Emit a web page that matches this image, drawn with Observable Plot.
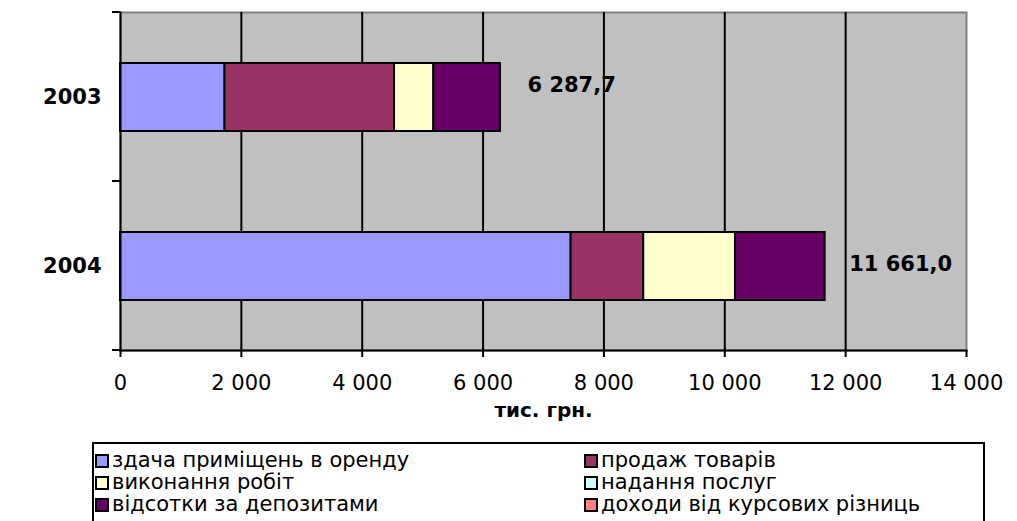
<!DOCTYPE html>
<html>
<head>
<meta charset="utf-8">
<script src="https://cdn.jsdelivr.net/npm/d3@7"></script>
<script src="https://cdn.jsdelivr.net/npm/@observablehq/plot@0.6"></script>
<style>
  html, body { margin: 0; padding: 0; background: #fff; }
  body { width: 1017px; height: 521px; overflow: hidden; font-family: "DejaVu Sans", Verdana, sans-serif; }
  #legend {
    position: absolute; left: 92px; top: 442px; width: 889px; height: 90px;
    border: 2px solid #000; box-sizing: content-box; font-size: 21px; color: #000;
  }
  .item { position: absolute; display: flex; align-items: center; white-space: nowrap; line-height: 21px; }
  .sw { width: 10px; height: 10px; border: 2px solid #000; margin-right: 3px; box-sizing: content-box; }
</style>
</head>
<body>
<div id="chart"></div>
<div id="legend"></div>
<script>
const years = ["2003", "2004"];
const series = [
  "здача приміщень в оренду",
  "продаж товарів",
  "виконання робіт",
  "надання послуг",
  "відсотки за депозитами",
  "доходи від курсових різниць"
];
const colors = ["#9999FF", "#993366", "#FFFFCC", "#CCFFFF", "#660066", "#FF8080"];
const values2003 = [1730, 2805, 650, 0, 1102.7, 0];
const values2004 = [7457, 1202, 1518, 0, 1484, 0];
const totals = [6287.7, 11661.0];
const totalLabels = ["6 287,7", "11 661,0"];
const xTicks = [0, 2000, 4000, 6000, 8000, 10000, 12000, 14000];
const gridTicks = [2000, 4000, 6000, 8000, 10000, 12000];
const axisTitle = "тис. грн.";

const valuesByYear = {"2003": values2003, "2004": values2004};
const table = [];
for (const y of years) {
  series.forEach((s, i) => {
    const v = valuesByYear[y][i];
    if (v > 0) table.push({year: y, series: s, value: v});
  });
}
const totalRows = years.map((y, i) => ({year: y, total: totals[i], label: totalLabels[i]}));
const labelDy = {"2003": -12, "2004": -2};

const fmt = d => d3.format(",")(d).replace(/,/g, " ");

function yBoundaryTicks(index, scales, values, dims) {
  const {marginTop, marginBottom, marginLeft, height} = dims;
  const n = years.length;
  const step = (height - marginTop - marginBottom) / n;
  const g = d3.create("svg:g");
  for (let i = 0; i <= n; i++) {
    const y = marginTop + i * step;
    g.append("line")
      .attr("x1", marginLeft - 8).attr("x2", marginLeft)
      .attr("y1", y).attr("y2", y)
      .attr("stroke", "#000").attr("stroke-width", 2);
  }
  return g.node();
}

const chart = Plot.plot({
  width: 1017,
  height: 438,
  marginLeft: 120,
  marginRight: 51,
  marginTop: 12,
  marginBottom: 88,
  style: {fontFamily: "DejaVu Sans, Verdana, sans-serif", fontSize: "21px", color: "#000", background: "#fff", overflow: "visible"},
  x: {domain: [0, 14000]},
  y: {domain: years, paddingInner: 0.6, paddingOuter: 0.3},
  color: {domain: series, range: colors},
  marks: [
    Plot.frame({fill: "#C0C0C0", stroke: "#808080", strokeWidth: 2}),
    Plot.gridX(gridTicks, {stroke: "#000", strokeOpacity: 1, strokeWidth: 2}),
    Plot.barX(table, Plot.stackX({x: "value", y: "year", fill: "series", stroke: "#000", strokeWidth: 2})),
    Plot.frame({anchor: "left", stroke: "#000", strokeWidth: 2}),
    Plot.frame({anchor: "bottom", stroke: "#000", strokeWidth: 2}),
    yBoundaryTicks,
    Plot.axisX({ticks: xTicks, tickSize: 7, tickPadding: 18, tickFormat: fmt, strokeWidth: 2, label: null, fontSize: 21}),
    Plot.axisY({tickSize: 0, tickPadding: 19, fontWeight: "bold", fontSize: 21, label: null}),
    Plot.text(totalRows.filter(d => d.year === "2003"), {x: "total", y: "year", text: "label", textAnchor: "start", dx: 27, dy: labelDy["2003"], fontWeight: "bold", fontSize: 21}),
    Plot.text(totalRows.filter(d => d.year === "2004"), {x: "total", y: "year", text: "label", textAnchor: "start", dx: 24, dy: labelDy["2004"], fontWeight: "bold", fontSize: 21}),
    Plot.text([axisTitle], {frameAnchor: "bottom", lineAnchor: "middle", text: d => d, dy: 60, fontWeight: "bold", fontSize: 20})
  ]
});
document.getElementById("chart").appendChild(chart);

const legend = document.getElementById("legend");
const colLeft = [1, 490];
const rowTop = [6, 28, 50];
series.forEach((s, i) => {
  const item = document.createElement("div");
  item.className = "item";
  item.style.left = colLeft[i % 2] + "px";
  item.style.top = rowTop[Math.floor(i / 2)] + "px";
  const sw = document.createElement("span");
  sw.className = "sw";
  sw.style.background = colors[i];
  const tx = document.createElement("span");
  tx.textContent = s;
  item.appendChild(sw);
  item.appendChild(tx);
  legend.appendChild(item);
});
</script>
</body>
</html>
